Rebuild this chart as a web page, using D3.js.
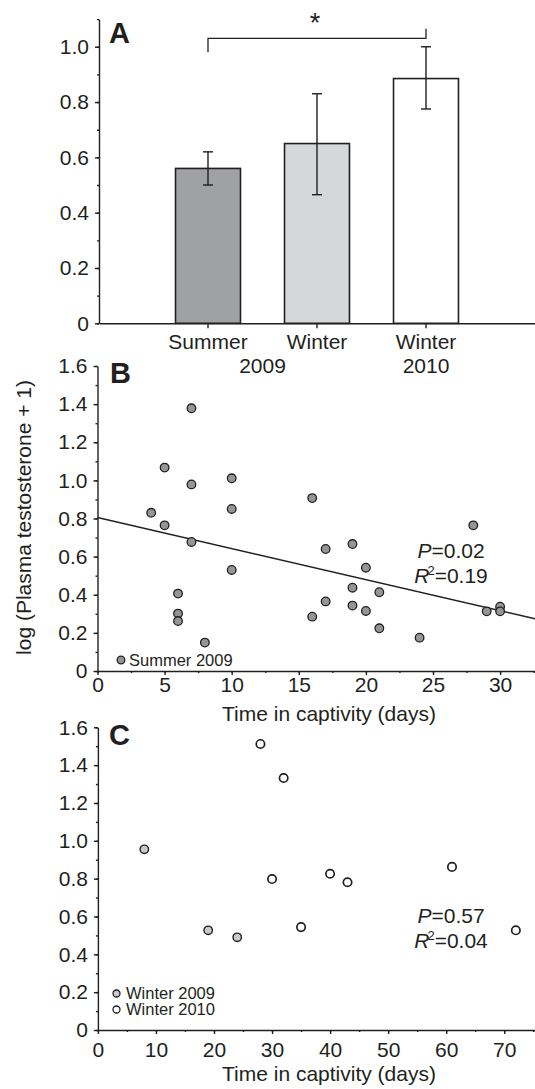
<!DOCTYPE html>
<html>
<head>
<meta charset="utf-8">
<script src="https://cdn.jsdelivr.net/npm/d3@7"></script>
<style>
  body { margin: 0; background: #fff; }
  svg { display: block; font-family: "Liberation Sans", Arial, Helvetica, sans-serif; }
  .domain, .tick line { stroke: #231f20; stroke-width: 1.4; }
  .tick text { fill: #231f20; }
</style>
</head>
<body>
<svg id="chart" width="535" height="1089"></svg>
<script>
// ---- Data ----
// Panel A: group means with error bars
const groupsA = ["Summer 2009", "Winter 2009", "Winter 2010"];
const seasonLabelsA = ["Summer", "Winter", "Winter"];
const meansA = [0.56, 0.65, 0.885];
const lowerA = [0.50, 0.465, 0.775];
const upperA = [0.62, 0.83, 1.0];
const yTicksA = [0, 0.2, 0.4, 0.6, 0.8, 1.0];

// Panel B: Summer 2009 individuals
const daysB = [4, 5, 5, 7, 7, 7, 6, 6, 6, 8, 10, 10, 10, 16, 16, 17, 17, 19, 19, 19, 20, 20, 21, 21, 24, 28, 29, 30, 30];
const valuesB = [0.83, 1.067, 0.764, 1.378, 0.979, 0.677, 0.406, 0.301, 0.262, 0.149, 1.011, 0.85, 0.53, 0.907, 0.285, 0.64, 0.365, 0.666, 0.437, 0.343, 0.542, 0.315, 0.413, 0.224, 0.175, 0.764, 0.313, 0.337, 0.313];
const fitInterceptB = 0.805;
const fitSlopeB = -0.0163;
const statsB = ["0.02", "0.19"];

// Panel C: winter individuals
const daysW2009 = [8, 19, 24];
const valuesW2009 = [0.955, 0.527, 0.49];
const daysW2010 = [28, 32, 30, 35, 40, 43, 61, 72];
const valuesW2010 = [1.512, 1.332, 0.798, 0.544, 0.826, 0.781, 0.862, 0.527];
const statsC = ["0.57", "0.04"];

const yTicksBC = [0, 0.2, 0.4, 0.6, 0.8, 1.0, 1.2, 1.4, 1.6];
const xTicksB = [0, 5, 10, 15, 20, 25, 30];
const xTicksC = [0, 10, 20, 30, 40, 50, 60, 70];

// ---- Setup ----
const ink = "#231f20";
const fs = 21; // main text size
const svg = d3.select("#chart");
const fmt = d => d === 0 ? "0" : d3.format(".1f")(d);

const barColor = d3.scaleOrdinal()
    .domain(groupsA)
    .range(["#a0a1a4", "#d6d7d9", "#ffffff"]);

// Draw a y axis with major and minor ticks
function drawYAxis(y, ticks, minorStep, x0, pad) {
    svg.append("g")
        .attr("transform", `translate(${x0},0)`)
        .call(d3.axisLeft(y).tickValues(ticks).tickSize(4).tickSizeOuter(0).tickPadding(pad).tickFormat(fmt))
        .attr("font-size", fs).attr("font-family", null);
    var top = y.domain()[1];
    svg.append("g")
        .attr("transform", `translate(${x0},0)`)
        .call(d3.axisLeft(y).tickValues(d3.range(0, top + 1e-6, minorStep)).tickSize(2).tickFormat(""))
        .call(g => g.select(".domain").remove());
}

// Draw an x axis with major and minor ticks
function drawXAxis(x, ticks, minorStep, y0, pad) {
    svg.append("g")
        .attr("transform", `translate(0,${y0})`)
        .call(d3.axisBottom(x).tickValues(ticks).tickSize(4).tickSizeOuter(0).tickPadding(pad).tickFormat(d3.format("d")))
        .attr("font-size", fs).attr("font-family", null);
    svg.append("g")
        .attr("transform", `translate(0,${y0})`)
        .call(d3.axisBottom(x).tickValues(d3.range(0, x.domain()[1], minorStep)).tickSize(2).tickFormat(""))
        .call(g => g.select(".domain").remove());
}

function panelLetter(t, x, y) {
    svg.append("text")
        .attr("x", x).attr("y", y)
        .attr("font-size", 29).attr("font-weight", "bold").attr("fill", ink)
        .text(t);
}

// P and R^2 annotation
function statsText(stats, cx, y) {
    var t1 = svg.append("text").attr("x", cx).attr("y", y)
        .attr("text-anchor", "middle").attr("font-size", fs).attr("fill", ink);
    t1.append("tspan").attr("font-style", "italic").text("P");
    t1.append("tspan").text("=" + stats[0]);
    var t2 = svg.append("text").attr("x", cx).attr("y", y + 25)
        .attr("text-anchor", "middle").attr("font-size", fs).attr("fill", ink);
    t2.append("tspan").attr("font-style", "italic").text("R");
    t2.append("tspan").attr("font-size", 13).attr("dy", -8).attr("dx", -2).text("2");
    t2.append("tspan").attr("dy", 8).text("=" + stats[1]);
}

// ---- Panel A ----
const xA = d3.scaleBand()
    .domain(groupsA)
    .range([99, 535])
    .paddingInner(0.404)
    .paddingOuter(0.702);

const yA = d3.scaleLinear().domain([0, 1.1]).range([323.3, 19.1]);

svg.selectAll(".bar")
    .data(groupsA)
    .enter().append("rect")
    .attr("class", "bar")
    .attr("x", d => xA(d))
    .attr("y", (d, i) => yA(meansA[i]))
    .attr("width", xA.bandwidth())
    .attr("height", (d, i) => yA(0) - yA(meansA[i]))
    .attr("fill", d => barColor(d))
    .attr("stroke", ink)
    .attr("stroke-width", 1.6);

// Error bars
groupsA.forEach((g, i) => {
    var cx = xA(g) + xA.bandwidth() / 2;
    var eb = svg.append("g").attr("stroke", ink).attr("stroke-width", 1.4);
    eb.append("line").attr("x1", cx).attr("x2", cx).attr("y1", yA(lowerA[i])).attr("y2", yA(upperA[i]));
    [lowerA[i], upperA[i]].forEach(v => {
        eb.append("line").attr("x1", cx - 5).attr("x2", cx + 5).attr("y1", yA(v)).attr("y2", yA(v));
    });
});

drawYAxis(yA, yTicksA, 0.1, 99, 6);

// Category axis
svg.append("g")
    .attr("transform", `translate(0,${yA(0)})`)
    .call(d3.axisBottom(xA).tickSize(5).tickSizeOuter(0).tickFormat(""));

svg.selectAll(".season")
    .data(groupsA)
    .enter().append("text")
    .attr("class", "season")
    .attr("x", d => xA(d) + xA.bandwidth() / 2)
    .attr("y", 348.5)
    .attr("text-anchor", "middle")
    .attr("font-size", fs)
    .attr("fill", ink)
    .text((d, i) => seasonLabelsA[i]);

// Year labels: 2009 spans the first two groups
const mid = i => xA(groupsA[i]) + xA.bandwidth() / 2;
svg.append("text").attr("x", (mid(0) + mid(1)) / 2).attr("y", 372.5)
    .attr("text-anchor", "middle").attr("font-size", fs).attr("fill", ink).text("2009");
svg.append("text").attr("x", mid(2)).attr("y", 372.5)
    .attr("text-anchor", "middle").attr("font-size", fs).attr("fill", ink).text("2010");

// Significance bracket
const bx1 = mid(0), bx2 = mid(2);
svg.append("path")
    .attr("d", `M${bx1},${yA(0.98)}V${yA(1.03)}H${bx2}V${yA(1.065)}`)
    .attr("fill", "none").attr("stroke", ink).attr("stroke-width", 1.3);
svg.append("text").attr("x", (bx1 + bx2) / 2 - 2).attr("y", 32)
    .attr("text-anchor", "middle").attr("font-size", 27).attr("fill", ink).text("*");

panelLetter("A", 109, 43);

// ---- Panel B ----
const xB = d3.scaleLinear().domain([0, 32.6]).range([97.5, 535]);
const yB = d3.scaleLinear().domain([0, 1.6]).range([671, 366]);

// Regression line
svg.append("path")
    .datum(xB.domain())
    .attr("d", d3.line().x(d => xB(d)).y(d => yB(fitInterceptB + fitSlopeB * d)))
    .attr("fill", "none").attr("stroke", ink).attr("stroke-width", 1.4);

svg.selectAll(".ptB")
    .data(daysB)
    .enter().append("circle")
    .attr("class", "ptB")
    .attr("cx", d => xB(d))
    .attr("cy", (d, i) => yB(valuesB[i]))
    .attr("r", 4.3)
    .attr("fill", "#959595")
    .attr("stroke", ink)
    .attr("stroke-width", 1.3);

drawYAxis(yB, yTicksBC, 0.1, 97.5, 6);
drawXAxis(xB, xTicksB, 2.5, 671, 2);

svg.append("circle").attr("cx", 121).attr("cy", 660).attr("r", 3.8)
    .attr("fill", "#959595").attr("stroke", ink).attr("stroke-width", 1.3);
svg.append("text").attr("x", 129).attr("y", 665.5).attr("font-size", 16.5).attr("fill", ink).text("Summer 2009");

statsText(statsB, 451, 558);
panelLetter("B", 110, 383);

svg.append("text").attr("x", 329).attr("y", 721)
    .attr("text-anchor", "middle").attr("font-size", fs).attr("fill", ink)
    .text("Time in captivity (days)");

svg.append("text")
    .attr("transform", `translate(31,${(yB(0) + yB(1.6)) / 2 - 1}) rotate(-90)`)
    .attr("text-anchor", "middle").attr("font-size", fs).attr("fill", ink)
    .text("log (Plasma testosterone + 1)");

// ---- Panel C ----
const xC = d3.scaleLinear().domain([0, 75.3]).range([97.9, 535]);
const yC = d3.scaleLinear().domain([0, 1.6]).range([1030, 727.3]);

svg.selectAll(".ptW09")
    .data(daysW2009)
    .enter().append("circle")
    .attr("class", "ptW09")
    .attr("cx", d => xC(d))
    .attr("cy", (d, i) => yC(valuesW2009[i]))
    .attr("r", 4.2)
    .attr("fill", "#cacaca")
    .attr("stroke", ink)
    .attr("stroke-width", 1.4);

svg.selectAll(".ptW10")
    .data(daysW2010)
    .enter().append("circle")
    .attr("class", "ptW10")
    .attr("cx", d => xC(d))
    .attr("cy", (d, i) => yC(valuesW2010[i]))
    .attr("r", 4.2)
    .attr("fill", "#ffffff")
    .attr("stroke", ink)
    .attr("stroke-width", 1.7);

drawYAxis(yC, yTicksBC, 0.1, 97.9, 6);
drawXAxis(xC, xTicksC, 5, 1030, 8);

// Legend
[["#cacaca", "Winter 2009"], ["#ffffff", "Winter 2010"]].forEach((d, i) => {
    svg.append("circle").attr("cx", 116.5).attr("cy", 993.5 + i * 16).attr("r", 3.5)
        .attr("fill", d[0]).attr("stroke", ink).attr("stroke-width", 1.3);
    svg.append("text").attr("x", 126).attr("y", 999 + i * 16)
        .attr("font-size", 16.5).attr("fill", ink).text(d[1]);
});

statsText(statsC, 451, 923);
panelLetter("C", 109, 745);

svg.append("text").attr("x", 329).attr("y", 1081)
    .attr("text-anchor", "middle").attr("font-size", fs).attr("fill", ink)
    .text("Time in captivity (days)");
</script>
</body>
</html>
